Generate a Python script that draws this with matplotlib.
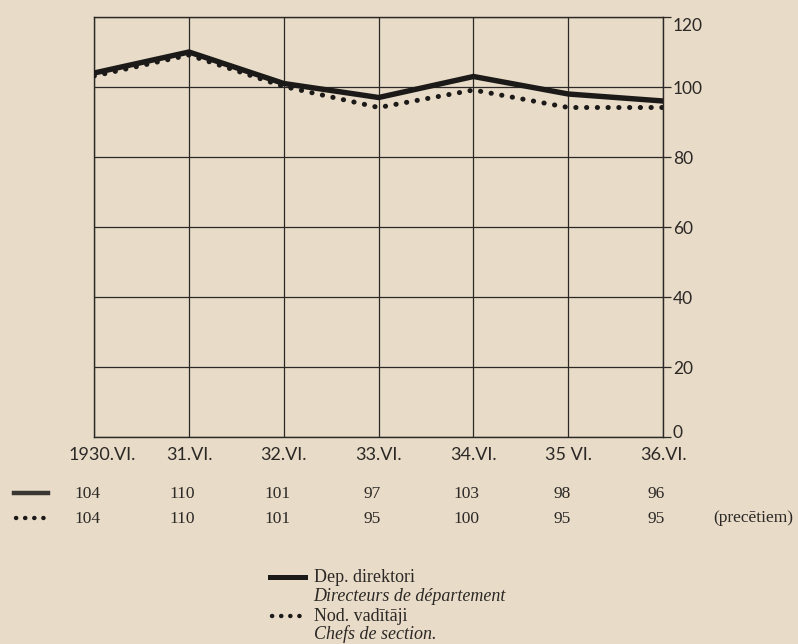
import matplotlib
matplotlib.use("Agg")
import matplotlib.pyplot as plt
import matplotlib.transforms as mtransforms
import numpy as np

# data
years = ['1930.VI.', '31.VI.', '32.VI.', '33.VI.', '34.VI.', '35 VI.', '36.VI.']
directors = [104, 110, 101, 97, 103, 98, 96]
chefs = [104, 110, 101, 95, 100, 95, 95]
yticks = [0, 20, 40, 60, 80, 100, 120]

paper = '#e8dbc7'
ink = '#2b2826'

fig = plt.figure(figsize=(7.98, 6.44), dpi=100, facecolor=paper)
ax = fig.add_axes([0.118, 0.3214, 0.713, 0.6522])
ax.set_facecolor(paper)

x = np.arange(len(years))
ax.plot(x, directors, color='#1c1a19', lw=3.9, solid_joinstyle='miter', zorder=3)
# dotted line sits a little below the solid one, as in the print
shift = mtransforms.offset_copy(ax.transData, fig=fig, x=0, y=-3, units='dots')
ax.plot(x, chefs, color='#1c1a19', lw=3.6, linestyle=(0, (0.05, 2.1)),
        dash_capstyle='round', transform=shift, zorder=4)

ax.set_xlim(0, 6)
ax.set_ylim(0, 120)
ax.set_xticks(x)
ax.set_xticklabels(years)
ax.set_yticks(yticks)
ax.grid(True, color=ink, lw=0.9)
for s in ax.spines.values():
    s.set_color(ink)
    s.set_linewidth(1.0)

ax.yaxis.tick_right()
ax.tick_params(axis='y', direction='out', length=6, width=0.9, color=ink,
               labelsize=12.5, labelcolor=ink, pad=1)
ax.tick_params(axis='x', length=0, labelsize=13, labelcolor=ink, pad=7)
for lab in ax.get_xticklabels() + ax.get_yticklabels():
    lab.set_family('Lato')

# nudge end labels like the original lettering
ylabs = ax.get_yticklabels()
ylabs[0].set_transform(ylabs[0].get_transform() +
                       mtransforms.ScaledTranslation(0, 0.06, fig.dpi_scale_trans))
ylabs[-1].set_transform(ylabs[-1].get_transform() +
                        mtransforms.ScaledTranslation(0, -0.07, fig.dpi_scale_trans))
xlabs = ax.get_xticklabels()
xlabs[0].set_transform(xlabs[0].get_transform() +
                       mtransforms.ScaledTranslation(0.08, 0, fig.dpi_scale_trans))

# value table under the chart
tr = ax.get_xaxis_transform()
for i in range(len(years)):
    ax.text(i - 0.07, -0.135, str(directors[i]), transform=tr, ha='center',
            va='center', family='Liberation Serif', fontsize=12.5, color=ink)
    ax.text(i - 0.07, -0.195, str(chefs[i]), transform=tr, ha='center',
            va='center', family='Liberation Serif', fontsize=12.5, color=ink)
fig.text(0.944, 0.196, '(precētiem)', ha='center', va='center',
         family='Liberation Serif', fontsize=12.5, color=ink)

# row keys
fig.add_artist(plt.Line2D([0.017, 0.060], [0.234, 0.234], color='#3a3634', lw=3.2))
fig.add_artist(plt.Line2D([0.020, 0.057], [0.195, 0.195], color='#1c1a19', lw=3.2,
                          linestyle=(0, (0.05, 2.0)), dash_capstyle='round'))

# legend
fig.add_artist(plt.Line2D([0.338, 0.382], [0.104, 0.104], color='#1c1a19', lw=3.6))
fig.text(0.393, 0.104, 'Dep. direktori', ha='left', va='center',
         family='Liberation Serif', fontsize=13, color=ink)
fig.text(0.393, 0.074, 'Directeurs de département', ha='left', va='center',
         family='Liberation Serif', style='italic', fontsize=13, color=ink)
fig.add_artist(plt.Line2D([0.341, 0.382], [0.043, 0.043], color='#1c1a19', lw=3.2,
                          linestyle=(0, (0.05, 2.0)), dash_capstyle='round'))
fig.text(0.393, 0.043, 'Nod. vadītāji', ha='left', va='center',
         family='Liberation Serif', fontsize=13, color=ink)
fig.text(0.393, 0.015, 'Chefs de section.', ha='left', va='center',
         family='Liberation Serif', style='italic', fontsize=13, color=ink)

fig.savefig('out.png', dpi=100, facecolor=paper)
